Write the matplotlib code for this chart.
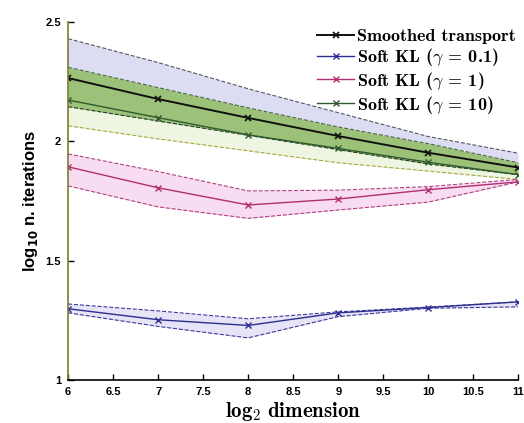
import numpy as np
import matplotlib
matplotlib.use('Agg')
import matplotlib.pyplot as plt

plt.rcParams['mathtext.fontset'] = 'cm'

# log2 dimension
dims = [6, 7, 8, 9, 10, 11]

# smoothed transport: mean and band
st_mean = [2.265, 2.177, 2.098, 2.022, 1.952, 1.89]
st_up = [2.43, 2.33, 2.22, 2.12, 2.02, 1.95]
st_lo = [2.145, 2.085, 2.025, 1.965, 1.905, 1.86]

# soft KL gamma = 0.1
kl01_mean = [1.298, 1.252, 1.228, 1.281, 1.303, 1.327]
kl01_up = [1.318, 1.289, 1.256, 1.285, 1.305, 1.327]
kl01_lo = [1.281, 1.224, 1.176, 1.265, 1.300, 1.306]

# soft KL gamma = 1
kl1_mean = [1.893, 1.805, 1.733, 1.758, 1.797, 1.83]
kl1_up = [1.947, 1.873, 1.792, 1.795, 1.81, 1.84]
kl1_lo = [1.813, 1.725, 1.677, 1.712, 1.745, 1.83]

# soft KL gamma = 10
kl10_mean = [2.173, 2.099, 2.027, 1.97, 1.912, 1.86]
kl10_up = [2.31, 2.225, 2.14, 2.06, 1.99, 1.91]
kl10_lo = [2.065, 2.01, 1.96, 1.91, 1.875, 1.84]

labels = ['Smoothed transport', r'Soft KL ($\gamma$ = 0.1)',
          r'Soft KL ($\gamma$ = 1)', r'Soft KL ($\gamma$ = 10)']
xticks = [6, 6.5, 7, 7.5, 8, 8.5, 9, 9.5, 10, 10.5, 11]
yticks = [1, 1.5, 2, 2.5]

fig = plt.figure(figsize=(5.24, 4.23), dpi=100)
ax = fig.add_axes([0.13, 0.102, 0.859, 0.846])

x = np.array(dims)

# bands
ax.fill_between(x, st_lo, st_up, color='#dcdcf2', lw=0)
ax.fill_between(x, kl10_lo, kl10_up, color='#eef6e2', lw=0)
ov_lo = np.maximum(st_lo, kl10_lo)
ov_up = np.minimum(st_up, kl10_up)
ax.fill_between(x, ov_lo, ov_up, color='#9cc27a', lw=0)
ax.fill_between(x, kl1_lo, kl1_up, color='#f8dcf2', lw=0)
ax.fill_between(x, kl01_lo, kl01_up, color='#e6e4f6', lw=0)

# band edges
ax.plot(x, st_up, '--', color='#555566', lw=0.8)
ax.plot(x, st_lo, '--', color='#2a3a2a', lw=0.8)
ax.plot(x, kl10_up, '--', color='#4a6a3a', lw=0.8)
ax.plot(x, kl10_lo, '--', color='#a8a840', lw=0.8)
ax.plot(x, kl1_up, '--', color='#b04080', lw=0.8)
ax.plot(x, kl1_lo, '--', color='#b04080', lw=0.8)
ax.plot(x, kl01_up, '--', color='#3a3a9a', lw=0.8)
ax.plot(x, kl01_lo, '--', color='#3a3a9a', lw=0.8)

# means
h1, = ax.plot(x, st_mean, '-x', color='#111111', lw=1.4, ms=5, mew=1.2)
h2, = ax.plot(x, kl01_mean, '-x', color='#2e2e90', lw=1.0, ms=5, mew=1.0)
h3, = ax.plot(x, kl1_mean, '-x', color='#b03070', lw=1.0, ms=5, mew=1.0)
h4, = ax.plot(x, kl10_mean, '-x', color='#2f5a2f', lw=1.0, ms=5, mew=1.0)

ax.set_xlim(6, 11)
ax.set_ylim(1, 2.5)
ax.set_xticks(xticks)
ax.set_xticklabels([('%g' % t) for t in xticks])
ax.set_yticks(yticks)
ax.set_yticklabels([('%g' % t) for t in yticks])
for lab in ax.get_xticklabels() + ax.get_yticklabels():
    lab.set_fontweight('bold')
    lab.set_fontsize(8)
    lab.set_family('Liberation Sans')
ax.tick_params(direction='in', length=4, width=1, pad=5)

ax.spines['top'].set_visible(False)
ax.spines['right'].set_visible(False)
ax.spines['left'].set_color('#7a7a30')
ax.spines['left'].set_linewidth(1.2)
ax.spines['bottom'].set_linewidth(1.2)

ax.set_ylabel(r'log$_{\mathbf{10}}$ n. iterations', fontsize=12, fontweight='bold',
              family='Liberation Sans', labelpad=4, math_fontfamily='dejavusans')
ax.set_xlabel(r'$\mathbf{log_2\ dimension}$', fontsize=15, labelpad=2)

leg = ax.legend([h1, h2, h3, h4], labels,
                loc='upper right', bbox_to_anchor=(1.023, 1.017), frameon=False,
                prop={'family': 'cmb10', 'size': 13}, handlelength=2.0,
                handletextpad=0.2, labelspacing=0.1, borderaxespad=0.3)

fig.savefig('out.png', dpi=100)
